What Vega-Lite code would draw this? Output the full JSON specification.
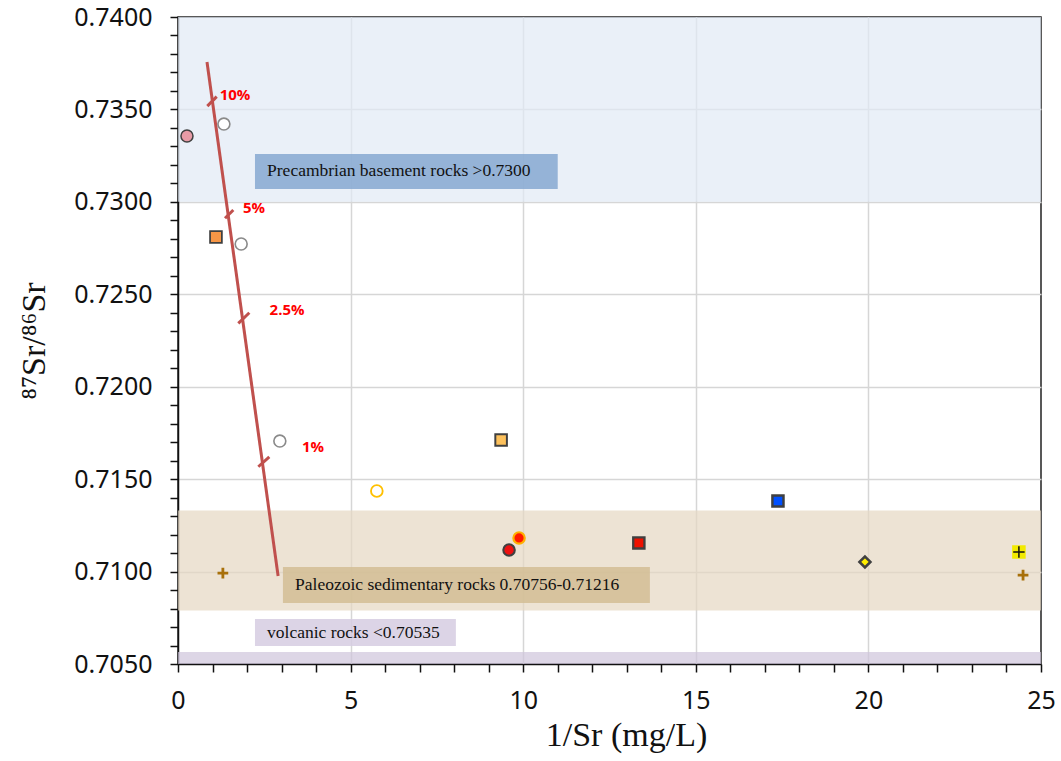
{
  "$schema": "https://vega.github.io/schema/vega-lite/v6.json",
  "width": 863,
  "height": 647,
  "autosize": "none",
  "padding": {"left": 178, "top": 17, "right": 20, "bottom": 97},
  "background": "white",
  "config": {
    "view": {"stroke": "#222222", "strokeWidth": 1.5},
    "axis": {"domainColor": "#111111", "domainWidth": 1.5, "tickColor": "#111111", "tickWidth": 1.5, "tickSize": 8, "gridColor": "#d6d6d6", "gridWidth": 1.5, "labelOverlap": false}
  },
  "resolve": {"scale": {"color": "independent"}},
  "datasets": {
    "bands": [
      {"band": "Precambrian", "x": 0, "x2": 25, "y": 0.7300, "y2": 0.7400},
      {"band": "Paleozoic", "x": 0, "x2": 25, "y": 0.7079, "y2": 0.7133},
      {"band": "volcanic", "x": 0, "x2": 25, "y": 0.7050, "y2": 0.70565}
    ],
    "boxes": [
      {"box": "Precambrian box", "x": 2.23, "x2": 11.0, "y": 0.73070, "y2": 0.73259},
      {"box": "Paleozoic box", "x": 3.04, "x2": 13.67, "y": 0.70830, "y2": 0.71025},
      {"box": "volcanic box", "x": 2.23, "x2": 8.05, "y": 0.70597, "y2": 0.70743}
    ],
    "boxlabels": [
      {"label": "Precambrian basement rocks >0.7300", "x": 2.58, "y": 0.73165},
      {"label": "Paleozoic sedimentary rocks 0.70756-0.71216", "x": 3.39, "y": 0.70928},
      {"label": "volcanic rocks <0.70535", "x": 2.58, "y": 0.70670}
    ],
    "mixline": [
      {"part": "line", "x": 0.84, "y": 0.73757, "x2": 2.90, "y2": 0.70976},
      {"part": "10%", "x": 0.849, "y": 0.73518, "x2": 1.121, "y2": 0.73569},
      {"part": "5%", "x": 1.362, "y": 0.72911, "x2": 1.602, "y2": 0.72956},
      {"part": "2.5%", "x": 1.747, "y": 0.72343, "x2": 2.066, "y2": 0.72400},
      {"part": "1%", "x": 2.326, "y": 0.71567, "x2": 2.645, "y2": 0.71621}
    ],
    "pct": [
      {"label": "10%", "x": 1.65, "y": 0.73578},
      {"label": "5%", "x": 2.20, "y": 0.72967},
      {"label": "2.5%", "x": 3.16, "y": 0.72415},
      {"label": "1%", "x": 3.91, "y": 0.71674}
    ],
    "points": [
      {"type": "pink", "x": 0.26, "y": 0.73356},
      {"type": "grayopen", "x": 1.33, "y": 0.73421},
      {"type": "orange_sq", "x": 1.10, "y": 0.72810},
      {"type": "grayopen", "x": 1.83, "y": 0.72772},
      {"type": "grayopen", "x": 2.95, "y": 0.71706},
      {"type": "yellow_open", "x": 5.76, "y": 0.71436},
      {"type": "lightorange_sq", "x": 9.36, "y": 0.71712},
      {"type": "red_dark", "x": 9.59, "y": 0.71117},
      {"type": "red_yellow", "x": 9.88, "y": 0.71182},
      {"type": "red_sq", "x": 13.35, "y": 0.71155},
      {"type": "blue_sq", "x": 17.38, "y": 0.71382},
      {"type": "yellow_dia", "x": 19.90, "y": 0.71052},
      {"type": "yellow_plus", "x": 24.36, "y": 0.71106},
      {"type": "brown_plus", "x": 1.30, "y": 0.70992},
      {"type": "brown_plus", "x": 24.48, "y": 0.70981}
    ]
  },
  "encoding": {
    "x": {"field": "x", "type": "quantitative", "scale": {"domain": [0, 25], "nice": false, "zero": false},
      "axis": {"title": "1/Sr (mg/L)", "titleFont": "Liberation Serif", "titleFontSize": 34, "titleFontWeight": "normal", "titleColor": "#111111", "titlePadding": 5, "titleX": 448,
        "values": [0,1,2,3,4,5,6,7,8,9,10,11,12,13,14,15,16,17,18,19,20,21,22,23,24,25],
        "labelExpr": "datum.value % 5 == 0 ? datum.label : ''",
        "labelFont": "Noto Sans", "labelFontSize": 25, "labelColor": "#111111", "labelPadding": 16, "labelFlush": false,
        "gridOpacity": {"condition": {"test": "datum.value % 5 == 0 && datum.value > 0 && datum.value < 25", "value": 1}, "value": 0}}},
    "y": {"field": "y", "type": "quantitative", "scale": {"domain": [0.705, 0.74], "nice": false, "zero": false},
      "axis": {"title": "⁸⁷Sr/⁸⁶Sr", "titleFont": "Liberation Serif", "titleFontSize": 34, "titleFontWeight": "normal", "titleColor": "#111111", "titlePadding": 22,
        "values": [0.705,0.706,0.707,0.708,0.709,0.710,0.711,0.712,0.713,0.714,0.715,0.716,0.717,0.718,0.719,0.720,0.721,0.722,0.723,0.724,0.725,0.726,0.727,0.728,0.729,0.730,0.731,0.732,0.733,0.734,0.735,0.736,0.737,0.738,0.739,0.740],
        "labelExpr": "round(datum.value*1000) % 5 == 0 ? format(datum.value, '.4f') : ''",
        "labelFont": "Noto Sans", "labelFontSize": 25, "labelColor": "#111111", "labelPadding": 18, "labelFlush": false,
        "gridOpacity": {"condition": {"test": "round(datum.value*1000) % 5 == 0 && datum.value > 0.7055 && datum.value < 0.7395", "value": 1}, "value": 0}}}
  },
  "layer": [
    {
      "data": {"name": "bands"},
      "mark": {"type": "rect", "opacity": 0.7},
      "encoding": {
        "x2": {"field": "x2"},
        "y2": {"field": "y2"},
        "color": {"field": "band", "type": "nominal", "legend": null,
          "scale": {"domain": ["Precambrian", "Paleozoic", "volcanic"], "range": ["#e1eaf5", "#e5d7c2", "#cec4db"]}}
      }
    },
    {
      "data": {"name": "boxes"},
      "mark": {"type": "rect", "opacity": 0.85},
      "encoding": {
        "x2": {"field": "x2"},
        "y2": {"field": "y2"},
        "color": {"field": "box", "type": "nominal", "legend": null,
          "scale": {"domain": ["Precambrian box", "Paleozoic box", "volcanic box"], "range": ["#86a8d1", "#d2bd94", "#d6cce2"]}}
      }
    },
    {
      "data": {"name": "boxlabels"},
      "mark": {"type": "text", "align": "left", "baseline": "middle", "font": "Liberation Serif", "fontSize": 17.5, "color": "#111111"},
      "encoding": {
        "text": {"field": "label"}
      }
    },
    {
      "data": {"name": "mixline"},
      "mark": {"type": "rule", "color": "#c0504d", "strokeWidth": 3, "strokeCap": "butt"},
      "encoding": {
        "x2": {"field": "x2"},
        "y2": {"field": "y2"}
      }
    },
    {
      "data": {"name": "pct"},
      "mark": {"type": "text", "align": "center", "baseline": "middle", "font": "Open Sans", "fontWeight": "bold", "fontSize": 15, "color": "#ff0000"},
      "encoding": {
        "text": {"field": "label"}
      }
    },
    {
      "data": {"name": "points"},
      "mark": {"type": "point", "filled": false, "opacity": 1},
      "encoding": {
        "shape": {"field": "type", "type": "nominal", "legend": null,
          "scale": {"domain": ["pink","grayopen","orange_sq","yellow_open","lightorange_sq","red_dark","red_yellow","red_sq","blue_sq","yellow_dia","yellow_plus","brown_plus"],
            "range": ["circle","circle","square","circle","square","circle","circle","square","square","diamond","square","M-1,0H1M0,-1V1"]}},
        "fill": {"field": "type", "type": "nominal", "legend": null,
          "scale": {"domain": ["pink","grayopen","orange_sq","yellow_open","lightorange_sq","red_dark","red_yellow","red_sq","blue_sq","yellow_dia","yellow_plus","brown_plus"],
            "range": ["#e79ba6","#ffffff","#f79646","#ffffff","#fdc15c","#ee1111","#ff1a00","#ee1100","#0050ff","#ffee00","#f2ea00","transparent"]}},
        "stroke": {"field": "type", "type": "nominal", "legend": null,
          "scale": {"domain": ["pink","grayopen","orange_sq","yellow_open","lightorange_sq","red_dark","red_yellow","red_sq","blue_sq","yellow_dia","yellow_plus","brown_plus"],
            "range": ["#404040","#8a8a8a","#404040","#ffc000","#404040","#404040","#ffb000","#404040","#404040","#404040","#f2ea00","#a8700a"]}},
        "strokeWidth": {"field": "type", "type": "nominal", "legend": null,
          "scale": {"domain": ["pink","grayopen","orange_sq","yellow_open","lightorange_sq","red_dark","red_yellow","red_sq","blue_sq","yellow_dia","yellow_plus","brown_plus"],
            "range": [1.5,2.8,1.5,3.5,1.5,1.5,1.5,1.5,1.5,1,0.5,3]}},
        "size": {"field": "type", "type": "nominal", "legend": null,
          "scale": {"domain": ["pink","grayopen","orange_sq","yellow_open","lightorange_sq","red_dark","red_yellow","red_sq","blue_sq","yellow_dia","yellow_plus","brown_plus"],
            "range": [145,115,170,125,170,150,120,170,185,170,190,220]}}
      }
    },
    {
      "data": {"name": "points"},
      "transform": [{"filter": "datum.type == 'yellow_plus'"}],
      "mark": {"type": "point", "shape": "M-1,0H1M0,-1V1", "filled": false, "stroke": "#111111", "strokeWidth": 1.5, "size": 130, "opacity": 1}
    }
  ]
}
